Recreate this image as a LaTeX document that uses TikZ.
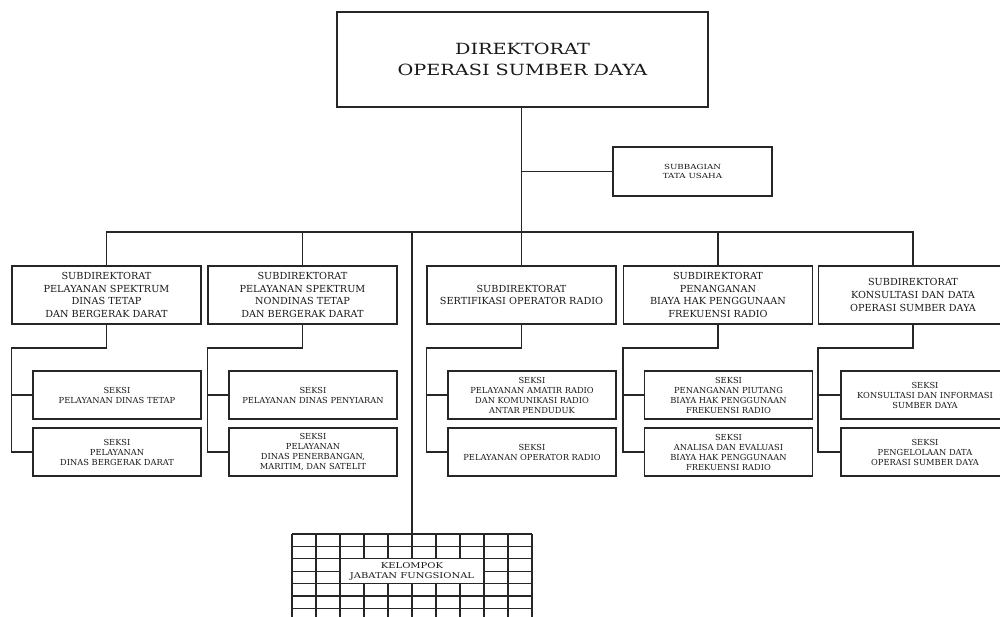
\documentclass[tikz,border=0pt]{standalone}
\usepackage{fontspec}
\setmainfont{DejaVu Serif}
\newfontfamily\widefont[FakeStretch=1.25]{DejaVu Serif}

\tikzset{
  orgline/.style={line width=1.5pt, draw=black!85},
  gridline/.style={line width=1.3pt, draw=black!85},
  box/.style={draw=black!85, line width=1.5pt, fill=white, align=center,
    inner sep=0pt, text=black!90},
  dirbox/.style={box, minimum width=371pt, minimum height=95pt,
    font=\widefont\fontsize{15.4}{20.5}\selectfont},
  subbox/.style={box, minimum width=159pt, minimum height=49pt,
    font=\widefont\fontsize{7}{9}\selectfont},
  sdbox/.style={box, minimum width=189pt, minimum height=58pt,
    font=\fontsize{9.7}{12.7}\selectfont},
  skbox/.style={box, minimum width=168pt, minimum height=48pt,
    font=\fontsize{8.3}{10}\selectfont},
  kelbox/.style={box, line width=1.3pt, minimum width=144pt, minimum height=24.8pt,
    font=\widefont\fontsize{8}{10}\selectfont},
}

\begin{document}
\begin{tikzpicture}[x=1pt,y=-1pt]
\useasboundingbox (0,0) rectangle (1000,617);
\clip (0,0) rectangle (1000,617);
\fill[white] (0,0) rectangle (1000,617);

% levels of the chart
\coordinate (bus) at (0,232);
\coordinate (drop) at (0,348);

% directorate and administration
\node[dirbox] (dir) at (522.5,59.5) {DIREKTORAT\\OPERASI SUMBER DAYA};
\node[subbox] (tu) at (692.5,171.5) {SUBBAGIAN\\TATA USAHA};

% sub-directorates
\node[sdbox] (sd1) at (106.5,295) {SUBDIREKTORAT\\PELAYANAN SPEKTRUM\\DINAS TETAP\\DAN BERGERAK DARAT};
\node[sdbox] (sd2) at (302.5,295) {SUBDIREKTORAT\\PELAYANAN SPEKTRUM\\NONDINAS TETAP\\DAN BERGERAK DARAT};
\node[sdbox] (sd3) at (521.5,295) {SUBDIREKTORAT\\SERTIFIKASI OPERATOR RADIO};
\node[sdbox] (sd4) at (718,295) {SUBDIREKTORAT\\PENANGANAN\\BIAYA HAK PENGGUNAAN\\FREKUENSI RADIO};
\node[sdbox] (sd5) at (913,295) {SUBDIREKTORAT\\KONSULTASI DAN DATA\\OPERASI SUMBER DAYA};

% sections
\node[skbox] (ska1) at (117,395) {SEKSI\\PELAYANAN DINAS TETAP};
\node[skbox] (skb1) at (117,452) {SEKSI\\PELAYANAN\\DINAS BERGERAK DARAT};
\node[skbox] (ska2) at (313,395) {SEKSI\\PELAYANAN DINAS PENYIARAN};
\node[skbox] (skb2) at (313,452) {SEKSI\\PELAYANAN\\DINAS PENERBANGAN,\\MARITIM, DAN SATELIT};
\node[skbox] (ska3) at (532,395) {SEKSI\\PELAYANAN AMATIR RADIO\\DAN KOMUNIKASI RADIO\\ANTAR PENDUDUK};
\node[skbox] (skb3) at (532,452) {SEKSI\\PELAYANAN OPERATOR RADIO};
\node[skbox] (ska4) at (728.5,395) {SEKSI\\PENANGANAN PIUTANG\\BIAYA HAK PENGGUNAAN\\FREKUENSI RADIO};
\node[skbox] (skb4) at (728.5,452) {SEKSI\\ANALISA DAN EVALUASI\\BIAYA HAK PENGGUNAAN\\FREKUENSI RADIO};
\node[skbox] (ska5) at (925,395) {SEKSI\\KONSULTASI DAN INFORMASI\\SUMBER DAYA};
\node[skbox] (skb5) at (925,452) {SEKSI\\PENGELOLAAN DATA\\OPERASI SUMBER DAYA};

% functional group: a grid with a label panel in the middle
\node[minimum width=240pt, minimum height=100pt, anchor=north, inner sep=0pt] (kg) at (412,534) {};
\foreach \k in {0,...,10}
  \draw[gridline] ({292+24*\k},534) -- ({292+24*\k},640);
\foreach \k in {0,...,8}
  \draw[gridline] (292,{534+12.4*\k}) -- (532,{534+12.4*\k});
\node[kelbox] (kel) at (412,571.2) {KELOMPOK\\JABATAN FUNGSIONAL};

% connectors
\draw[orgline] (dir.south -| sd3.north) -- (sd3.north);
\draw[orgline] (tu.west) -- (tu.west -| sd3.north);
\draw[orgline] (sd1.north) |- (sd5.north |- bus) -- (sd5.north);
\draw[orgline] (sd2.north) -- (sd2.north |- bus);
\draw[orgline] (sd4.north) -- (sd4.north |- bus);
\draw[orgline] (kg.north) -- (kg.north |- bus);
\foreach \i in {1,...,5} {
  \draw[orgline] (sd\i.south) -- (sd\i.south |- drop) -| (skb\i.west -| sd\i.west) -- (skb\i.west);
  \draw[orgline] (ska\i.west) -- (ska\i.west -| sd\i.west);
}
\end{tikzpicture}
\end{document}
